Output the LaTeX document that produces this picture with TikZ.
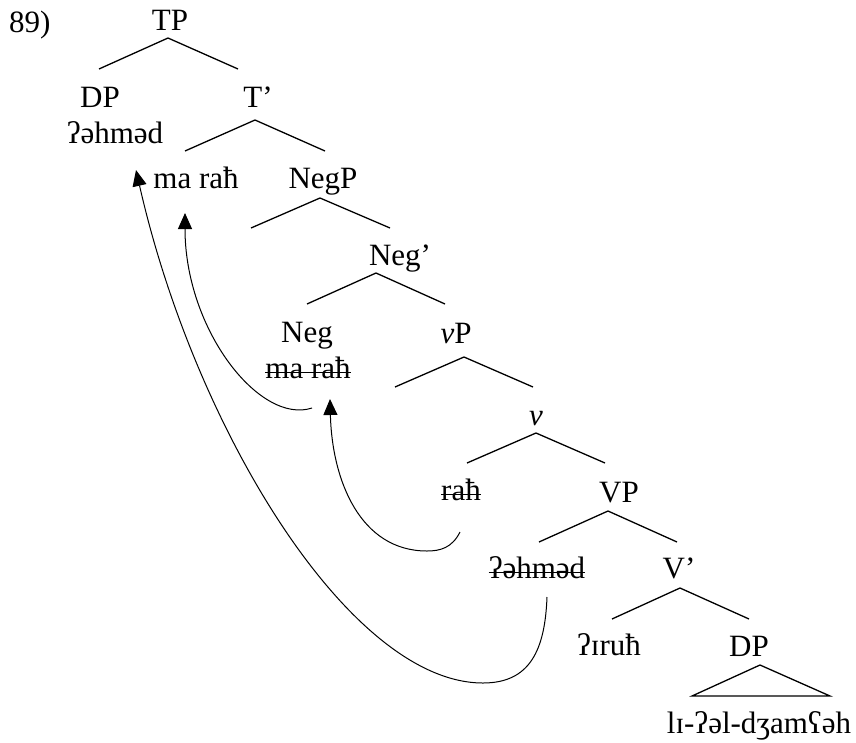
\documentclass[tikz,border=0pt]{standalone}
\usepackage{fontspec}
\setmainfont{Liberation Serif}
\usetikzlibrary{arrows.meta}

\begin{document}
\begin{tikzpicture}[x=1pt,y=-1pt,
  lbl/.style={anchor=base,inner sep=0pt,font=\fontsize{31}{37}\selectfont},
  branch/.style={line width=1.3pt},
  strike/.style={line width=1.7pt},
  move/.style={line width=1pt,-{Triangle[length=16pt,width=14pt]}}]
\useasboundingbox (0,0) rectangle (856,742);
\node[lbl,anchor=base west] (num) at (9,32) {89)};
% labels of the tree
\node[lbl] (tp) at (170,30) {TP};
\node[lbl] (dp) at (100,107) {DP};
\node[lbl] (tbar) at (258,107) {T’};
\node[lbl] (subj) at (115,143) {ʔəhməd};
\node[lbl] (thead) at (196,188) {ma raħ};
\node[lbl] (negp) at (323,188) {NegP};
\node[lbl] (negbar) at (400,265) {Neg’};
\node[lbl] (neg) at (307,342) {Neg};
\node[lbl] (negtr) at (308,378) {ma raħ};
\node[lbl] (vp) at (456,343) {\textit{v}P};
\node[lbl] (vbar) at (536,425) {\textit{v}};
\node[lbl] (vtr) at (461,500) {raħ};
\node[lbl] (bigvp) at (619,502) {VP};
\node[lbl] (subjtr) at (537,578) {ʔəhməd};
\node[lbl] (bigvbar) at (679,578) {V’};
\node[lbl] (verb) at (609,655) {ʔɪruħ};
\node[lbl] (obj) at (749,656) {DP};
\node[lbl] (objtxt) at (759,733) {lɪ-ʔəl-dʒamʕəh};
% traces are struck through
\foreach \t in {negtr,vtr,subjtr}
  \draw[strike] ([yshift=5.5pt]\t.base west) -- ([yshift=5.5pt]\t.base east);
% branches: top, left foot, right foot
\foreach \n/\a/\l/\r in {
  tp/{168,38}/{99,69}/{238,69},
  tbar/{255,120}/{185,151}/{325,151},
  negp/{320,198}/{251,228}/{390,228},
  negbar/{376,273}/{307,304}/{445,304},
  vp/{464,357}/{395,387}/{533,387},
  vbar/{536,433}/{467,463}/{605,463},
  bigvp/{608,511}/{539,542}/{677,542},
  bigvbar/{680,588}/{612,619}/{749,619}}{
  \coordinate (\n-top) at (\a);
  \coordinate (\n-l) at (\l);
  \coordinate (\n-r) at (\r);
  \draw[branch] (\n-l) -- (\n-top) -- (\n-r);
}
% triangle over the object
\coordinate (obj-top) at (760,665);
\coordinate (obj-l) at (692,696);
\coordinate (obj-r) at (830,696);
\draw[branch] (obj-l) -- (obj-top) -- (obj-r) -- cycle;
% movement arrows
\coordinate (subj-from) at (547,597);
\coordinate (subj-to) at (136,170);
\coordinate (v-from) at (460,532);
\coordinate (v-to) at (330,399);
\coordinate (neg-from) at (312,408);
\coordinate (neg-to) at (185,213);
\draw[move] (subj-from) .. controls (545,650) and (530,683) .. (483,683)
  .. controls (350,683) and (195,430) .. (subj-to);
\draw[move] (v-from) .. controls (452,548) and (440,551) .. (427,551)
  .. controls (360,551) and (332,480) .. (v-to);
\draw[move] (neg-from) .. controls (260,425) and (185,330) .. (neg-to);
\end{tikzpicture}
\end{document}
